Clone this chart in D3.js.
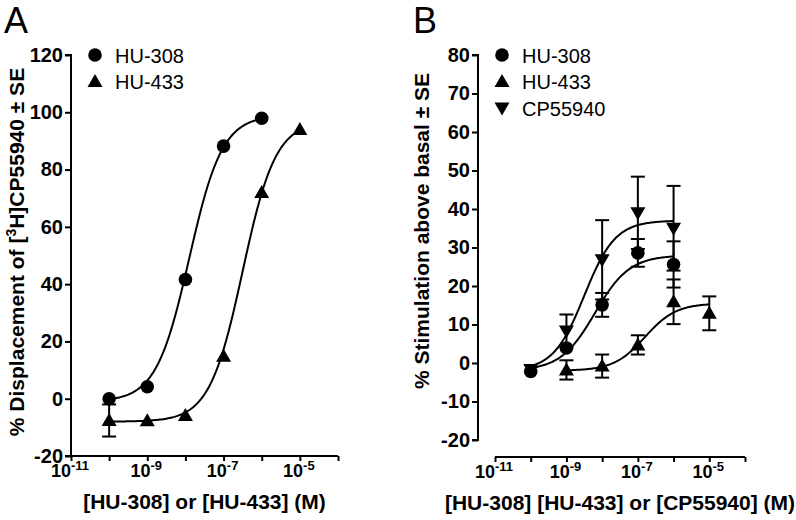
<!DOCTYPE html>
<html>
<head>
<meta charset="utf-8">
<script src="https://cdn.jsdelivr.net/npm/d3@7"></script>
<style>
  body { margin: 0; background: #fff; }
  svg { display: block; }
  text { font-family: "Liberation Sans", Arial, sans-serif; fill: #000; }
</style>
</head>
<body>
<svg id="chart" width="796" height="520"></svg>
<script>
// ---------------- DATA ----------------
// Panel A: displacement of [3H]CP55940
const concA_HU308 = [1e-10, 1e-9, 1e-8, 1e-7, 1e-6];
const valA_HU308  = [0.0, 4.2, 41.6, 88.2, 97.9];
const seA_HU308   = [1.5, 1.0, 1.5, 1.5, 1.0];
const concA_HU433 = [1e-10, 1e-9, 1e-8, 1e-7, 1e-6, 1e-5];
const valA_HU433  = [-7.6, -7.7, -5.9, 14.8, 72.0, 94.0];
const seA_HU433   = [5.6, 1.0, 1.0, 1.5, 1.5, 1.0];
// fitted sigmoid parameters: [bottom, top, logEC50, hill]
const fitA_HU308 = [-1, 99, -7.9, 1.0];
const fitA_HU433 = [-8, 97, -6.5, 1.0];

// Panel B: stimulation above basal
const concB_HU308 = [1e-10, 1e-9, 1e-8, 1e-7, 1e-6];
const valB_HU308  = [-2.2, 3.9, 15.1, 28.6, 25.6];
const seB_HU308   = [1.0, 1.5, 3.1, 3.6, 6.0];
const concB_HU433 = [1e-9, 1e-8, 1e-7, 1e-6, 1e-5];
const valB_HU433  = [-1.8, -0.8, 4.7, 15.9, 12.9];
const seB_HU433   = [2.5, 3.0, 2.5, 5.8, 4.4];
const concB_CP    = [1e-10, 1e-9, 1e-8, 1e-7, 1e-6];
const valB_CP     = [-1.7, 8.3, 26.8, 39.0, 35.0];
const seB_CP      = [1.0, 4.3, 10.3, 9.4, 11.0];
const fitB_HU308 = [-2, 28, -8.2, 0.9];
const fitB_HU433 = [-2, 15.5, -6.8, 1.0];
const fitB_CP    = [-2, 37, -8.5, 1.0];

const yTicksA = [-20, 0, 20, 40, 60, 80, 100, 120];
const yTicksB = [-20, -10, 0, 10, 20, 30, 40, 50, 60, 70, 80];
const xMajorExps = [-11, -9, -7, -5];
const xAllExps = [-11, -10, -9, -8, -7, -6, -5, -4];

const legendA = ["HU-308", "HU-433"];
const legendB = ["HU-308", "HU-433", "CP55940"];

// ---------------- DRAWING ----------------
const svg = d3.select("#chart");
const R = 6.8;

function marker(g, type, x, y) {
  if (type === "circle") {
    g.append("circle").attr("cx", x).attr("cy", y).attr("r", R).attr("fill", "#000");
  } else if (type === "up") {
    g.append("path").attr("d", `M${x},${y-7.5} L${x+7.5},${y+5.5} L${x-7.5},${y+5.5} Z`).attr("fill", "#000");
  } else {
    g.append("path").attr("d", `M${x},${y+7.5} L${x+7.5},${y-5.5} L${x-7.5},${y-5.5} Z`).attr("fill", "#000");
  }
}

function sigmoid(p, lx) {
  const [b, t, l, h] = p;
  return b + (t - b) / (1 + Math.pow(10, (l - lx) * h));
}

function panel(cfg) {
  const g = svg.append("g");
  const x = d3.scaleLog().domain([1e-11, 1e-4]).range(cfg.xRange);
  const y = d3.scaleLinear().domain(cfg.yDomain).range(cfg.yRange);

  // y axis
  const yAxis = d3.axisLeft(y).tickValues(cfg.yTicks).tickSize(6).tickPadding(2)
    .tickFormat(d => String(d).replace("\u2212", "-"));
  const ya = g.append("g").attr("transform", `translate(${cfg.yAxisX},0)`).call(yAxis);
  ya.select(".domain").attr("d", `M-6,${cfg.yRange[1]}H0V${cfg.yRange[0]}H-6`).attr("stroke-width", 2);
  ya.selectAll(".tick line").attr("stroke-width", 2);
  ya.selectAll(".tick text").style("font-family", "Liberation Sans, Arial, sans-serif")
    .style("font-size", "20px").style("font-weight", "bold").attr("fill", "#000");

  // x axis
  const xAxis = d3.axisBottom(x).tickValues(xAllExps.map(e => Math.pow(10, e)))
    .tickSize(5).tickFormat("");
  const xa = g.append("g").attr("transform", `translate(0,${cfg.xAxisY})`).call(xAxis);
  xa.select(".domain").attr("d", `M${cfg.xRange[0]},0H${cfg.xRange[1]}`).attr("stroke-width", 2);
  xa.selectAll(".tick line").attr("stroke-width", 2);
  xMajorExps.forEach(e => {
    const t = g.append("text").attr("x", x(Math.pow(10, e)) - 1).attr("y", cfg.xAxisY + 21)
      .attr("text-anchor", "middle").style("font-weight", "bold").style("font-size", "18px");
    t.append("tspan").text("10");
    t.append("tspan").attr("dy", -7).style("font-size", "13px").text(String(e));
  });

  // axis titles
  g.append("text").attr("x", (cfg.xRange[0] + cfg.xRange[1]) / 2).attr("y", cfg.xAxisY + 53)
    .attr("text-anchor", "middle").style("font-weight", "bold").style("font-size", "21px")
    .text(cfg.xTitle);
  const yt = g.append("text")
    .attr("transform", `translate(${cfg.yTitleX},${cfg.yTitleY}) rotate(-90)`)
    .attr("text-anchor", "middle").style("font-weight", "bold").style("font-size", "21px");
  cfg.yTitle(yt);

  // panel letter
  g.append("text").attr("x", cfg.letterX).attr("y", 33).style("font-size", "36px").text(cfg.letter);

  // curves
  const line = d3.line().x(d => x(Math.pow(10, d[0]))).y(d => y(d[1]));
  cfg.series.forEach(s => {
    const lo = Math.log10(s.conc[0]), hi = Math.log10(s.conc[s.conc.length - 1]);
    const pts = d3.range(0, 121).map(i => {
      const lx = lo + (hi - lo) * i / 120;
      return [lx, sigmoid(s.fit, lx)];
    });
    g.append("path").attr("d", line(pts)).attr("fill", "none").attr("stroke", "#000").attr("stroke-width", 2);
  });

  // error bars (hidden when shorter than the symbol, as in the original software)
  cfg.series.forEach(s => {
    s.conc.forEach((c, i) => {
      const cx = x(c), v = s.val[i], se = s.se[i];
      const y1 = y(v + se), y2 = y(v - se);
      if (Math.abs(y2 - y1) / 2 <= R) return;
      g.append("line").attr("x1", cx).attr("x2", cx).attr("y1", y1).attr("y2", y2)
        .attr("stroke", "#000").attr("stroke-width", 2);
      [y1, y2].forEach(yy => g.append("line").attr("x1", cx - 7).attr("x2", cx + 7)
        .attr("y1", yy).attr("y2", yy).attr("stroke", "#000").attr("stroke-width", 2));
    });
  });
  cfg.series.forEach(s => {
    s.conc.forEach((c, i) => marker(g, s.type, x(c), y(s.val[i])));
  });

  // legend
  cfg.legend.forEach((name, i) => {
    const ly = 55 + i * 26.5;
    marker(g, cfg.series[i].type, cfg.legendX, ly);
    g.append("text").attr("x", cfg.legendX + 20).attr("y", ly + 7.5).style("font-size", "20px").text(name);
  });
}

panel({
  letter: "A", letterX: 4,
  xRange: [71, 338], yDomain: [-20, 120], yRange: [456, 55],
  yAxisX: 71, xAxisY: 456, yTicks: yTicksA,
  xTitle: "[HU-308] or [HU-433] (M)",
  yTitleX: 24, yTitleY: 252,
  yTitle: t => {
    t.append("tspan").text("% Displacement of [");
    t.append("tspan").attr("dy", -8).style("font-size", "14px").text("3");
    t.append("tspan").attr("dy", 8).text("H]CP55940 \u00b1 SE");
  },
  legendX: 95, legend: legendA,
  series: [
    { type: "circle", conc: concA_HU308, val: valA_HU308, se: seA_HU308, fit: fitA_HU308 },
    { type: "up", conc: concA_HU433, val: valA_HU433, se: seA_HU433, fit: fitA_HU433 }
  ]
});

panel({
  letter: "B", letterX: 413,
  xRange: [495, 745], yDomain: [-20, 80], yRange: [440, 55],
  yAxisX: 478, xAxisY: 457, yTicks: yTicksB,
  xTitle: "[HU-308] [HU-433] or [CP55940] (M)",
  yTitleX: 429, yTitleY: 231,
  yTitle: t => t.text("% Stimulation above basal \u00b1 SE"),
  legendX: 502, legend: legendB,
  series: [
    { type: "circle", conc: concB_HU308, val: valB_HU308, se: seB_HU308, fit: fitB_HU308 },
    { type: "up", conc: concB_HU433, val: valB_HU433, se: seB_HU433, fit: fitB_HU433 },
    { type: "down", conc: concB_CP, val: valB_CP, se: seB_CP, fit: fitB_CP }
  ]
});
</script>
</body>
</html>
